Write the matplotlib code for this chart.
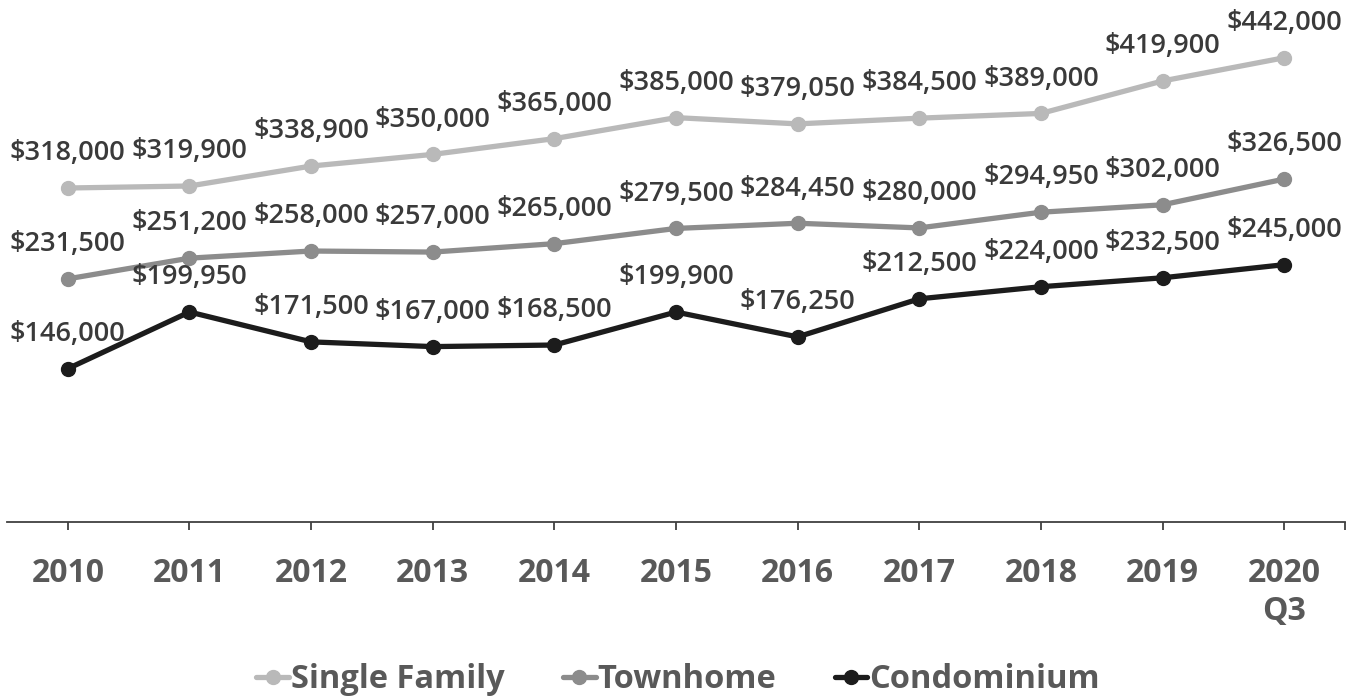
import matplotlib
matplotlib.use("Agg")
import matplotlib.pyplot as plt

plt.rcParams['font.family'] = ['Open Sans', 'DejaVu Sans']

# years on the x axis
years = ["2010", "2011", "2012", "2013", "2014", "2015",
         "2016", "2017", "2018", "2019", "2020\nQ3"]

# median prices per type
single_family = [318000, 319900, 338900, 350000, 365000, 385000,
                 379050, 384500, 389000, 419900, 442000]
townhome = [231500, 251200, 258000, 257000, 265000, 279500,
            284450, 280000, 294950, 302000, 326500]
condominium = [146000, 199950, 171500, 167000, 168500, 199900,
               176250, 212500, 224000, 232500, 245000]

series = [
    ("Single Family", single_family, "#b9b9b9"),
    ("Townhome", townhome, "#8c8c8c"),
    ("Condominium", condominium, "#1c1c1c"),
]

fig = plt.figure(figsize=(13.64, 6.98), dpi=100)
ax = fig.add_axes([7 / 1364, 1 - 522 / 698, (1345 - 7) / 1364, 522 / 698])

x = list(range(len(years)))
for name, vals, col in series:
    ax.plot(x, vals, color=col, lw=3.8, marker="o", ms=10, label=name,
            solid_capstyle="round", zorder=3)
    for xi, v in zip(x, vals):
        ax.annotate(f"${v:,.0f}", (xi, v), xytext=(0, 25),
                    textcoords="offset points", ha="center", va="center",
                    fontsize=19.5, fontweight="semibold", color="#3a3a3a",
                    annotation_clip=False)

ax.set_xlim(-0.5, 10.5)
ax.set_ylim(0, 497000)
ax.set_yticks([])
for s in ["top", "right", "left"]:
    ax.spines[s].set_visible(False)
ax.spines["bottom"].set_color("#404040")
ax.spines["bottom"].set_linewidth(1.3)

ax.set_xticks(x + [10.5])
ax.set_xticklabels(years + [""], fontsize=23, fontweight="bold", color="#595959",
                   linespacing=1.2)
ax.tick_params(axis="x", direction="out", length=6, width=1.3, color="#404040", pad=19)
ax.patch.set_alpha(0)

leg = fig.legend(loc="center", bbox_to_anchor=(0.497, 0.026), ncol=3,
                 frameon=False, handlelength=1.0, handletextpad=0.05,
                 columnspacing=1.8, prop={"size": 23.5, "weight": "bold"})
for t in leg.get_texts():
    t.set_color("#595959")

fig.savefig("out.png", dpi=100)
